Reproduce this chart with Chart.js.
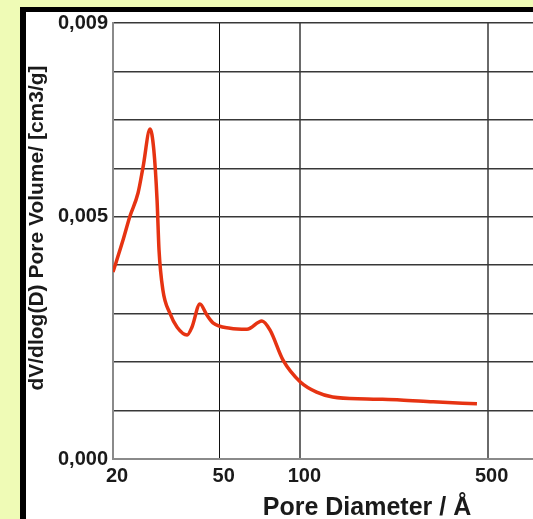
<!DOCTYPE html>
<html>
<head>
<meta charset="utf-8">
<script src="https://cdn.jsdelivr.net/npm/chart.js@4"></script>
<style>
  html, body { margin: 0; padding: 0; background: rgb(239,251,182); width: 533px; height: 519px; overflow: hidden; }
  #frame { position: absolute; left: 20px; top: 7px; width: 520px; height: 508px; background: #fff;
           border-left: 6px solid #000; border-top: 5px solid #000; border-bottom: 2px solid #000; }
  #wrap { position: absolute; left: 0; top: 0; width: 533px; height: 519px; }
</style>
</head>
<body>
<div id="frame"></div>
<div id="wrap"><canvas id="c"></canvas></div>
<script>
// Pore diameter (Å)
const poreDiameter = [20.0, 21.8, 23.1, 24.8, 25.9, 27.5, 28.4, 29.2, 29.7, 30.7, 32.6, 34.7, 37.8, 39.4, 42.2, 44.8, 47.2, 54.7, 63.2, 71.9, 77.1, 86.2, 100, 115, 132, 177, 236, 313, 456];
// dV/dlog(D) pore volume (cm3/g)
const poreVolume = [0.00386, 0.00452, 0.00500, 0.00549, 0.00603, 0.00681, 0.00638, 0.00535, 0.00431, 0.00349, 0.00301, 0.00272, 0.00256, 0.00272, 0.00320, 0.00297, 0.00281, 0.00270, 0.00268, 0.00285, 0.00266, 0.00204, 0.00159, 0.00138, 0.00128, 0.00124, 0.00122, 0.00118, 0.00114];
const xTicks = [20, 50, 100, 500];
const yTickValues = [0, 0.005, 0.009];
const yTickLabels = ['0,000', '0,005', '0,009'];
const xTitle = 'Pore Diameter / Å';
const yTitle = 'dV/dlog(D) Pore Volume/ [cm3/g]';

const FONT = '"Liberation Sans", Arial, Helvetica, sans-serif';

const titlePlugin = {
  id: 'titles',
  afterDraw(chart) {
    const ctx = chart.ctx;
    ctx.save();
    ctx.fillStyle = '#1a1a1a';
    ctx.font = 'bold 25px ' + FONT;
    ctx.textAlign = 'center';
    ctx.textBaseline = 'alphabetic';
    ctx.fillText(xTitle, 367, 515);
    ctx.translate(37, 228);
    ctx.rotate(-Math.PI / 2);
    ctx.font = 'bold 21px ' + FONT;
    ctx.textBaseline = 'middle';
    ctx.fillText(yTitle, 0, 0);
    ctx.restore();
  }
};

new Chart(document.getElementById('c'), {
  type: 'line',
  data: {
    datasets: [{
      data: poreDiameter.map((d, i) => ({ x: d, y: poreVolume[i] })),
      borderColor: '#E63312',
      borderWidth: 3.5,
      pointRadius: 0,
      fill: false,
      cubicInterpolationMode: 'monotone'
    }]
  },
  options: {
    responsive: true,
    maintainAspectRatio: false,
    animation: false,
    devicePixelRatio: 1,
    layout: { padding: { top: 23, left: 0, right: 0, bottom: 0 } },
    plugins: { legend: { display: false }, tooltip: { enabled: false } },
    scales: {
      x: {
        type: 'logarithmic',
        min: 20,
        max: 738,
        afterBuildTicks(scale) { scale.ticks = xTicks.map(v => ({ value: v })); },
        afterFit(scale) { scale.height = 60; },
        ticks: {
          autoSkip: false,
          maxRotation: 0,
          padding: 5,
          labelOffset: 4,
          color: '#1a1a1a',
          font: { family: FONT, size: 20, weight: 'bold' },
          callback: (v) => String(v)
        },
        grid: {
          drawTicks: false,
          color: (c) => (c.tick && c.tick.value === 50) ? '#111' : '#6a6a6a',
          lineWidth: (c) => (c.tick && c.tick.value === 50) ? 1 : 2
        },
        border: { display: true, color: '#8a8a8a', width: 2 }
      },
      y: {
        type: 'linear',
        min: 0,
        max: 0.009,
        afterFit(scale) { scale.width = 113; },
        ticks: {
          stepSize: 0.001,
          padding: 5,
          color: '#1a1a1a',
          font: { family: FONT, size: 20, weight: 'bold' },
          callback: (v) => {
            const i = yTickValues.findIndex(t => Math.abs(t - v) < 1e-9);
            return i >= 0 ? yTickLabels[i] : '';
          }
        },
        grid: { drawTicks: false, color: '#383838', lineWidth: 1.5 },
        border: { display: true, color: '#8a8a8a', width: 2 }
      }
    }
  },
  plugins: [titlePlugin]
});
</script>
</body>
</html>
